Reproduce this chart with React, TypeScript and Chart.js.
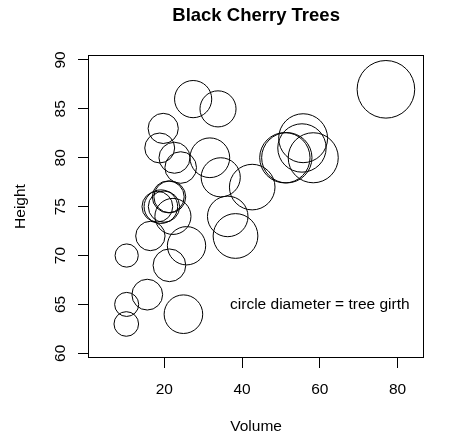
import React, { useEffect, useRef } from "react";
import { Chart, registerables } from "chart.js";

Chart.register(...registerables);

// R "trees" dataset (Black Cherry Trees)
const volume = [10.3, 10.3, 10.2, 16.4, 18.8, 19.7, 15.6, 18.2, 22.6, 19.9, 24.2, 21.0, 21.4, 21.3, 19.1, 22.2, 33.8, 27.4, 25.7, 24.9, 34.5, 31.7, 36.3, 38.3, 42.6, 55.4, 55.7, 58.3, 51.5, 51.0, 77.0];
const height = [70, 65, 63, 72, 81, 83, 66, 75, 80, 75, 79, 76, 76, 69, 75, 74, 85, 86, 71, 64, 78, 80, 74, 72, 77, 81, 82, 80, 80, 80, 87];
const girth = [8.3, 8.6, 8.8, 10.5, 10.7, 10.8, 11.0, 11.0, 11.1, 11.2, 11.3, 11.4, 11.4, 11.7, 12.0, 12.9, 12.9, 13.3, 13.7, 13.8, 14.0, 14.2, 14.5, 16.0, 16.3, 17.3, 17.5, 17.9, 18.0, 18.0, 20.6];

const xTicks = [20, 40, 60, 80];
const yTicks = [60, 65, 70, 75, 80, 85, 90];

const titleText = "Black Cherry Trees";
const xTitle = "Volume";
const yTitle = "Height";
const noteText = "circle diameter = tree girth";
const notePos = { x: 60, y: 65 };

const FONT = '"Liberation Sans", Arial, Helvetica, sans-serif';
const MAX_RADIUS_PX = 28.8; // largest circle radius (symbols inches)

export default function App() {
  const ref = useRef<HTMLCanvasElement | null>(null);

  useEffect(() => {
    document.body.style.margin = "0";
    const canvas = ref.current;
    if (!canvas) return;
    const maxG = Math.max(...girth);
    const points = volume.map((v, i) => ({ x: v, y: height[i], r: (girth[i] / maxG) * MAX_RADIUS_PX }));

    const framePlugin = {
      id: "frame",
      afterDraw(chart: any) {
        const { ctx, chartArea, scales } = chart;
        ctx.save();
        // box
        ctx.strokeStyle = "#000";
        ctx.lineWidth = 1;
        const l = Math.round(chartArea.left) + 0.5;
        const t = Math.round(chartArea.top) + 0.5;
        const r = Math.round(chartArea.right) - 0.5;
        const b = Math.round(chartArea.bottom) - 0.5;
        ctx.strokeRect(l, t, r - l, b - t);
        // title
        ctx.fillStyle = "#000";
        ctx.font = `bold 18.5px ${FONT}`;
        ctx.textAlign = "center";
        ctx.textBaseline = "alphabetic";
        ctx.fillText(titleText, (chartArea.left + chartArea.right) / 2, 21);
        // note
        ctx.font = `15.5px ${FONT}`;
        ctx.textBaseline = "middle";
        ctx.fillText(noteText, scales.x.getPixelForValue(notePos.x), scales.y.getPixelForValue(notePos.y));
        ctx.restore();
      },
    };

    const chart = new Chart(canvas, {
      type: "bubble",
      data: {
        datasets: [
          {
            data: points,
            backgroundColor: "rgba(0,0,0,0)",
            borderColor: "#000",
            borderWidth: 1,
            hoverBorderWidth: 1,
          },
        ],
      },
      options: {
        animation: false,
        responsive: false,
        devicePixelRatio: 1,
        events: [],
        layout: { padding: { top: 55, right: 6, left: 0, bottom: 0 } },
        plugins: {
          legend: { display: false },
          title: { display: false },
          tooltip: { enabled: false },
        },
        scales: {
          x: {
            type: "linear",
            min: 0.35,
            max: 86.85,
            afterBuildTicks: (s: any) => {
              s.ticks = xTicks.map((v) => ({ value: v }));
            },
            afterFit: (s: any) => {
              s.height = 78;
            },
            grid: { drawOnChartArea: false, drawTicks: true, tickLength: 10, tickColor: "#000", color: "#000" },
            border: { display: false },
            ticks: { color: "#000", font: { family: FONT, size: 15.5 }, padding: 12, maxRotation: 0, autoSkip: false },
            title: { display: true, text: xTitle, color: "#000", font: { family: FONT, size: 15.5 }, padding: { top: 0, bottom: 0 } },
          },
          y: {
            type: "linear",
            min: 59.52,
            max: 90.51,
            afterBuildTicks: (s: any) => {
              s.ticks = yTicks.map((v) => ({ value: v }));
            },
            afterFit: (s: any) => {
              s.width = 88;
            },
            grid: { drawOnChartArea: false, drawTicks: true, tickLength: 10, tickColor: "#000", color: "#000" },
            border: { display: false },
            ticks: {
              color: "#000",
              font: { family: FONT, size: 15.5 },
              padding: 8.4,
              minRotation: 90,
              maxRotation: 90,
              crossAlign: "center",
              autoSkip: false,
            },
            title: { display: true, text: yTitle, color: "#000", font: { family: FONT, size: 15.5 }, padding: { top: 11.7, bottom: 0 } },
          },
        },
      },
      plugins: [framePlugin],
    } as any);

    return () => chart.destroy();
  }, []);

  return (
    <div style={{ position: "absolute", left: 0, top: 0, width: 454, height: 436, background: "#fff" }}>
      <canvas ref={ref} width={454} height={436} style={{ display: "block", width: 454, height: 436 }} />
    </div>
  );
}
